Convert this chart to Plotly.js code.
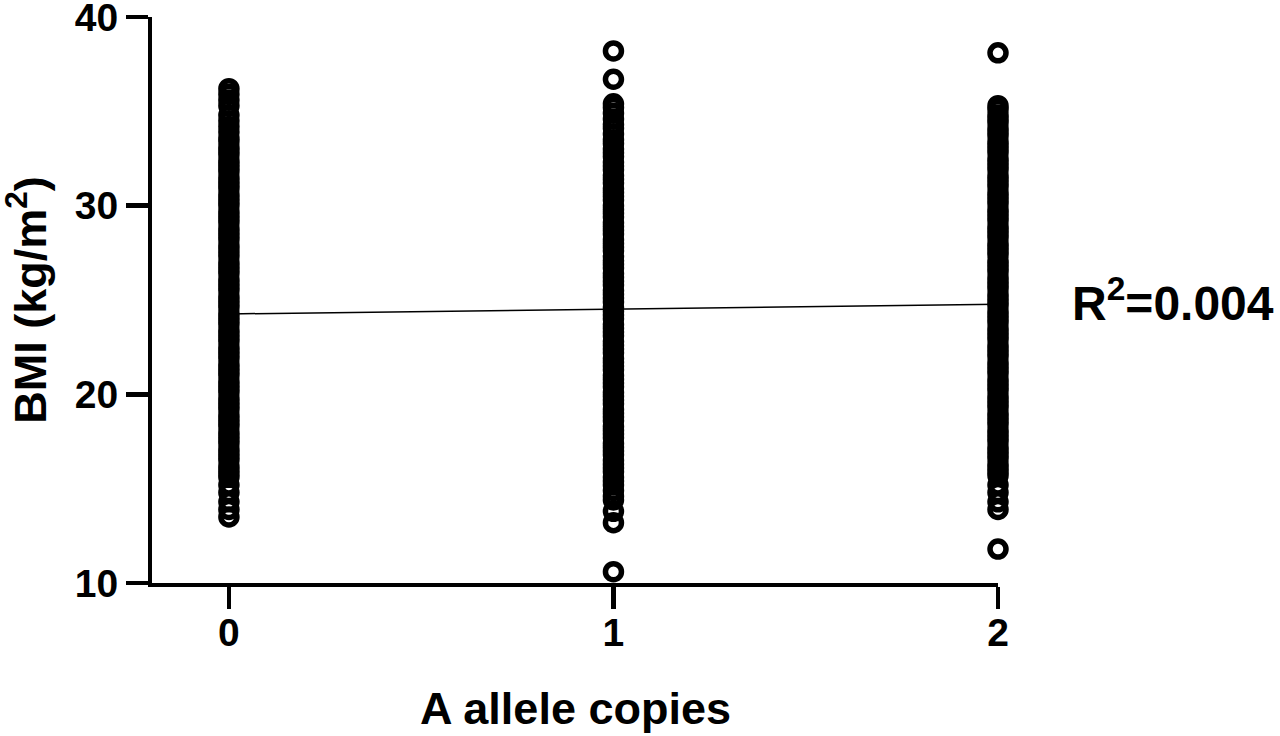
<!DOCTYPE html>
<html>
<head>
<meta charset="utf-8">
<script src="https://cdn.plot.ly/plotly-3.0.1.min.js"></script>
<style>
  html, body { margin: 0; padding: 0; background: #fff; }
  #chart { width: 1280px; height: 736px; }
</style>
</head>
<body>
<div id="chart"></div>
<script>
// A allele copies on x, BMI for each genotype group
const copies = [0, 1, 2];

const bmi0 = [
  36.2, 35.9, 35.6, 35.3, 34.8, 34.5, 34.2, 33.9,
  33.6, 33.4, 33.1, 32.9, 32.7, 32.4, 32.2, 32.0, 31.8, 31.5, 31.3, 31.1,
  30.9, 30.6, 30.4, 30.2, 30.0, 29.7, 29.5, 29.3, 29.1, 28.8, 28.6, 28.4,
  28.2, 27.9, 27.7, 27.5, 27.3, 27.0, 26.8, 26.6, 26.4, 26.1, 25.9, 25.7,
  25.5, 25.2, 25.0, 24.8, 24.6, 24.3, 24.1, 23.9, 23.7, 23.4, 23.2, 23.0,
  22.8, 22.5, 22.3, 22.1, 21.9, 21.6, 21.4, 21.2, 21.0, 20.7, 20.5, 20.3,
  20.1, 19.8, 19.6, 19.4, 19.2, 18.9, 18.7, 18.5, 18.3, 18.0, 17.8, 17.6,
  17.4, 17.1, 16.9, 16.7, 16.5, 16.2, 16.0, 15.8,
  15.6, 15.2, 14.8, 14.3, 13.9, 13.5
];

const bmi1 = [
  38.2, 36.7, 35.4, 35.2, 34.9, 34.6, 34.3, 34.1,
  33.8, 33.5, 33.3, 33.0, 32.8, 32.6, 32.3, 32.1, 31.9, 31.6, 31.4, 31.2,
  30.9, 30.7, 30.5, 30.3, 30.0, 29.8, 29.6, 29.4, 29.1, 28.9, 28.7, 28.5,
  28.2, 28.0, 27.8, 27.6, 27.3, 27.1, 26.9, 26.7, 26.4, 26.2, 26.0, 25.8,
  25.5, 25.3, 25.1, 24.9, 24.6, 24.4, 24.2, 24.0, 23.7, 23.5, 23.3, 23.1,
  22.8, 22.6, 22.4, 22.2, 21.9, 21.7, 21.5, 21.3, 21.0, 20.8, 20.6, 20.4,
  20.1, 19.9, 19.7, 19.5, 19.2, 19.0, 18.8, 18.6, 18.3, 18.1, 17.9, 17.7,
  17.4, 17.2, 17.0, 16.8, 16.5, 16.3, 16.1, 15.9, 15.6, 15.4, 15.2, 14.9,
  14.6, 14.4, 13.8, 13.2, 10.6
];

const bmi2 = [
  38.1, 35.3, 35.1, 34.8, 34.6, 34.4, 34.1,
  33.9, 33.7, 33.4, 33.2, 33.0, 32.8, 32.5, 32.3, 32.1, 31.9, 31.6, 31.4,
  31.2, 31.0, 30.7, 30.5, 30.3, 30.1, 29.8, 29.6, 29.4, 29.2, 28.9, 28.7,
  28.5, 28.3, 28.0, 27.8, 27.6, 27.4, 27.1, 26.9, 26.7, 26.5, 26.2, 26.0,
  25.8, 25.6, 25.3, 25.1, 24.9, 24.7, 24.4, 24.2, 24.0, 23.8, 23.5, 23.3,
  23.1, 22.9, 22.6, 22.4, 22.2, 22.0, 21.7, 21.5, 21.3, 21.1, 20.8, 20.6,
  20.4, 20.2, 19.9, 19.7, 19.5, 19.3, 19.0, 18.8, 18.6, 18.4, 18.1, 17.9,
  17.7, 17.5, 17.2, 17.0, 16.8, 16.6, 16.3, 16.1, 15.9, 15.7,
  15.2, 14.8, 14.3, 13.9, 11.8
];

// fitted line BMI at 0 and 2 copies
const fitX = [0, 2];
const fitY = [24.26, 24.77];
const rSquared = "0.004";

const groups = [bmi0, bmi1, bmi2];
const FONT = "Liberation Sans, Arial, Helvetica, sans-serif";

const fitTrace = {
  type: "scatter",
  mode: "lines",
  x: fitX,
  y: fitY,
  line: { color: "#000", width: 1.5 },
  hoverinfo: "skip",
  showlegend: false,
};

const pointTraces = groups.map((vals, i) => ({
  type: "scatter",
  mode: "markers",
  x: vals.map(() => copies[i]),
  y: vals,
  marker: { symbol: "circle-open", size: 16, color: "#000", line: { width: 5.5 } },
  cliponaxis: false,
  showlegend: false,
}));

const tickFont = { family: FONT, size: 39, color: "#000", weight: "bold" };
const titleFont = { family: FONT, size: 45, color: "#000", weight: "bold" };

const axisStyle = {
  showline: true,
  linecolor: "#000",
  linewidth: 4,
  ticks: "outside",
  ticklen: 22,
  tickwidth: 4.5,
  tickcolor: "#000",
  tickfont: tickFont,
  ticklabeloverflow: "allow",
  showgrid: false,
  zeroline: false,
  fixedrange: true,
};

const layout = {
  width: 1280,
  height: 736,
  margin: { l: 152, r: 282, t: 17, b: 153 },
  plot_bgcolor: "#fff",
  paper_bgcolor: "#fff",
  showlegend: false,
  xaxis: {
    ...axisStyle,
    range: [-0.2, 2.0],
    tickvals: copies,
    ticktext: copies.map(String),
    ticklabelstandoff: -10,
  },
  yaxis: {
    ...axisStyle,
    range: [10, 40],
    tickvals: [10, 20, 30, 40],
    ticklabelstandoff: 0,
  },
  annotations: [
    {
      xref: "paper", yref: "paper",
      x: 0.5, y: -0.221,
      text: "A allele copies",
      showarrow: false,
      font: titleFont,
      xanchor: "center", yanchor: "middle",
    },
    {
      xref: "paper", yref: "paper",
      x: -0.148, y: 0.5,
      text: "BMI (kg/m<sup>2</sup>)",
      textangle: -90,
      showarrow: false,
      font: titleFont,
      xanchor: "center", yanchor: "middle",
    },
    {
      xref: "paper", yref: "paper",
      x: 1.207, y: 0.5,
      text: "R<sup>2</sup>=" + rSquared,
      showarrow: false,
      font: { family: FONT, size: 48, color: "#000", weight: "bold" },
      xanchor: "center", yanchor: "middle",
    },
  ],
};

Plotly.newPlot("chart", [fitTrace, ...pointTraces], layout, { displayModeBar: false, staticPlot: true });
</script>
</body>
</html>
